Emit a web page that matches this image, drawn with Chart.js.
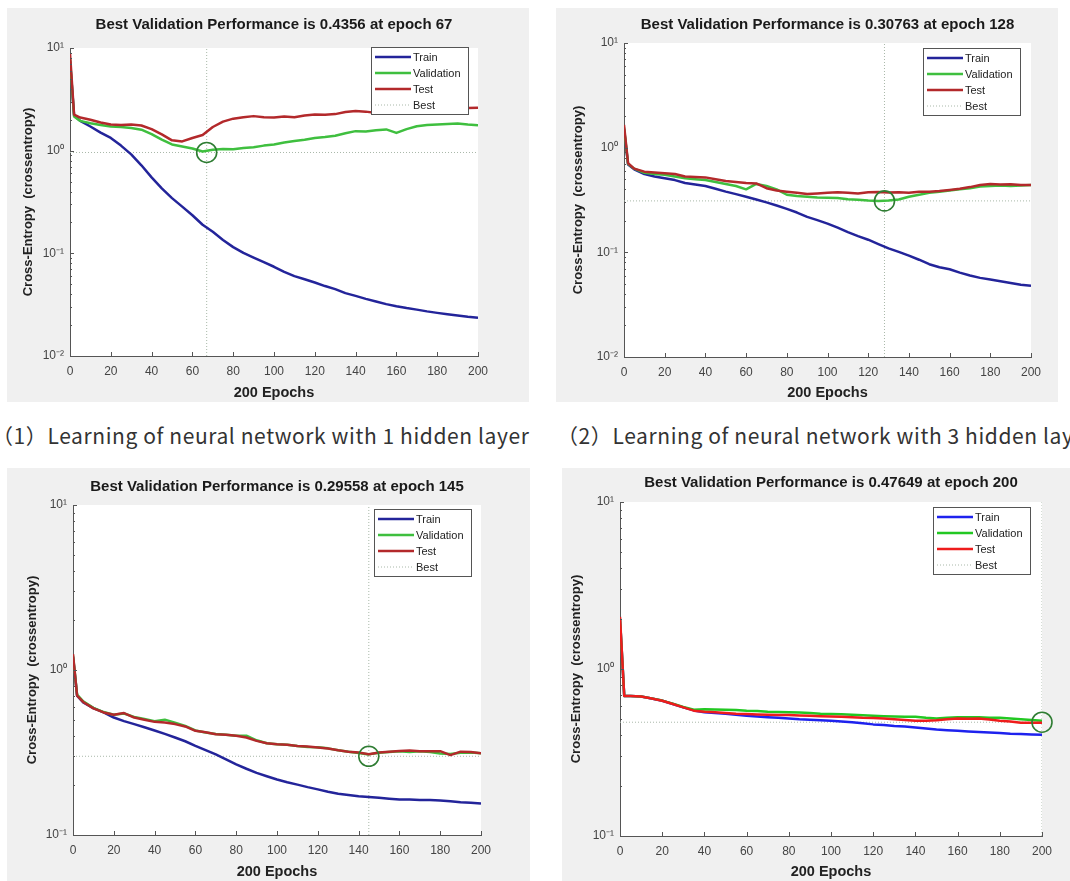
<!doctype html>
<html>
<head>
<meta charset="utf-8" />
<title>Cross-entropy learning curves</title>
<script src="https://cdn.jsdelivr.net/npm/chart.js"></script>
<style>
  body { margin: 0; width: 1070px; height: 881px; overflow: hidden; background: #fff; position: relative; }
  .panel { position: absolute; background: #f0f0f0; }
  .panel canvas { display: block; }
  .caption { position: absolute; top: 420px; font-family: "Noto Sans CJK SC", sans-serif; font-size: 21px; letter-spacing: 0.6px; color: #333; white-space: nowrap; }
</style>
</head>
<body>
<div class="panel" style="left:7px; top:8px; width:522px; height:394px;"><canvas id="c1"></canvas></div>
<div class="panel" style="left:556px; top:8px; width:502px; height:394px;"><canvas id="c2"></canvas></div>
<div class="panel" style="left:7px; top:468px; width:523px; height:413px;"><canvas id="c3"></canvas></div>
<div class="panel" style="left:562px; top:468px; width:508px; height:413px;"><canvas id="c4"></canvas></div>
<div class="caption" style="left:-8px;">（1）Learning of neural network with 1 hidden layer</div>
<div class="caption" style="left:557px;">（2）Learning of neural network with 3 hidden layers</div>

<script>
  var epochs = [0, 2, 5, 10, 15, 20, 25, 30, 35, 40, 45, 50, 55, 60, 65, 70, 75, 80, 85, 90, 95, 100,
    105, 110, 115, 120, 125, 130, 135, 140, 145, 150, 155, 160, 165, 170, 175, 180, 185, 190, 195, 200];
  var xTicks = [0, 20, 40, 60, 80, 100, 120, 140, 160, 180, 200];

  // (1) top left
  var train1 = [7.5, 2.2, 1.95, 1.72, 1.5, 1.33, 1.12, 0.92, 0.72, 0.55, 0.43, 0.345, 0.285, 0.235, 0.19, 0.162, 0.135, 0.115, 0.101, 0.091, 0.082, 0.074,
    0.066, 0.060, 0.056, 0.052, 0.048, 0.0448, 0.041, 0.0385, 0.036, 0.034, 0.032, 0.0305, 0.0293, 0.0283, 0.0272, 0.0263, 0.0255, 0.0248, 0.0241, 0.0236];
  var val1 = [7.8, 2.15, 1.95, 1.85, 1.78, 1.72, 1.70, 1.66, 1.60, 1.45, 1.28, 1.15, 1.10, 1.05, 0.98, 1.02, 1.04, 1.03, 1.06, 1.08, 1.12, 1.15,
    1.20, 1.24, 1.28, 1.33, 1.36, 1.40, 1.48, 1.55, 1.54, 1.58, 1.61, 1.49, 1.62, 1.73, 1.78, 1.80, 1.82, 1.84, 1.80, 1.77];
  var test1 = [8.8, 2.25, 2.1, 2.0, 1.88, 1.80, 1.78, 1.80, 1.76, 1.62, 1.44, 1.26, 1.23, 1.33, 1.42, 1.70, 1.92, 2.05, 2.12, 2.17, 2.12, 2.10,
    2.15, 2.12, 2.20, 2.25, 2.24, 2.27, 2.38, 2.44, 2.40, 2.33, 2.36, 2.42, 2.50, 2.56, 2.55, 2.57, 2.58, 2.56, 2.60, 2.62];
  var best1 = [67, 0.96];
  var title1 = 'Best Validation Performance is 0.4356 at epoch 67';

  // (2) top right
  var train2 = [1.5, 0.69, 0.62, 0.56, 0.53, 0.51, 0.49, 0.46, 0.445, 0.43, 0.405, 0.38, 0.36, 0.34, 0.32, 0.30, 0.28, 0.26, 0.24, 0.218, 0.203, 0.188,
    0.172, 0.156, 0.143, 0.132, 0.12, 0.109, 0.101, 0.093, 0.085, 0.077, 0.072, 0.069, 0.064, 0.060, 0.057, 0.055, 0.053, 0.051, 0.049, 0.048];
  var val2 = [1.55, 0.70, 0.63, 0.575, 0.56, 0.55, 0.53, 0.51, 0.50, 0.49, 0.47, 0.45, 0.43, 0.40, 0.45, 0.43, 0.40, 0.355, 0.345, 0.34, 0.335, 0.333,
    0.33, 0.322, 0.318, 0.312, 0.31, 0.312, 0.32, 0.34, 0.355, 0.37, 0.38, 0.39, 0.40, 0.41, 0.425, 0.43, 0.435, 0.43, 0.435, 0.44];
  var test2 = [1.65, 0.71, 0.63, 0.59, 0.58, 0.57, 0.56, 0.53, 0.525, 0.52, 0.50, 0.48, 0.47, 0.46, 0.455, 0.41, 0.39, 0.38, 0.37, 0.36, 0.365, 0.37,
    0.375, 0.37, 0.365, 0.375, 0.378, 0.372, 0.375, 0.37, 0.38, 0.38, 0.385, 0.395, 0.405, 0.42, 0.44, 0.45, 0.445, 0.448, 0.44, 0.44];
  var best2 = [128, 0.31];
  var title2 = 'Best Validation Performance is 0.30763 at epoch 128';

  // (3) bottom left
  var train3 = [1.2, 0.70, 0.636, 0.587, 0.553, 0.515, 0.49, 0.47, 0.45, 0.43, 0.41, 0.39, 0.37, 0.347, 0.327, 0.308, 0.287, 0.268, 0.252, 0.238, 0.227, 0.217,
    0.209, 0.202, 0.195, 0.189, 0.183, 0.178, 0.175, 0.172, 0.17, 0.168, 0.166, 0.164, 0.164, 0.163, 0.163, 0.162, 0.16, 0.158, 0.157, 0.155];
  var val3 = [1.22, 0.71, 0.645, 0.59, 0.556, 0.535, 0.545, 0.52, 0.505, 0.49, 0.50, 0.48, 0.458, 0.43, 0.418, 0.41, 0.405, 0.40, 0.40, 0.375, 0.36, 0.355,
    0.352, 0.346, 0.342, 0.34, 0.335, 0.326, 0.32, 0.314, 0.308, 0.315, 0.318, 0.322, 0.318, 0.322, 0.318, 0.312, 0.31, 0.315, 0.316, 0.313];
  var test3 = [1.25, 0.70, 0.64, 0.585, 0.553, 0.535, 0.548, 0.515, 0.50, 0.485, 0.48, 0.47, 0.455, 0.428, 0.42, 0.408, 0.405, 0.399, 0.39, 0.372, 0.36, 0.355,
    0.352, 0.346, 0.344, 0.339, 0.334, 0.326, 0.32, 0.316, 0.309, 0.316, 0.32, 0.323, 0.325, 0.322, 0.322, 0.322, 0.305, 0.32, 0.318, 0.313];
  var best3 = [145, 0.30];
  var title3 = 'Best Validation Performance is 0.29558 at epoch 145';

  // (4) bottom right
  var train4 = [2.0, 0.69, 0.69, 0.685, 0.665, 0.646, 0.617, 0.589, 0.565, 0.55, 0.545, 0.54, 0.532, 0.525, 0.52, 0.515, 0.51, 0.505, 0.50, 0.497, 0.493, 0.49,
    0.485, 0.48, 0.473, 0.466, 0.462, 0.456, 0.452, 0.447, 0.44, 0.434, 0.43, 0.427, 0.423, 0.42, 0.417, 0.414, 0.41, 0.408, 0.406, 0.404];
  var val4 = [2.0, 0.69, 0.69, 0.685, 0.667, 0.647, 0.62, 0.592, 0.57, 0.575, 0.572, 0.57, 0.568, 0.563, 0.56, 0.555, 0.552, 0.55, 0.548, 0.545, 0.54, 0.537,
    0.535, 0.532, 0.528, 0.525, 0.522, 0.52, 0.518, 0.518, 0.51, 0.505, 0.51, 0.515, 0.515, 0.515, 0.51, 0.51, 0.505, 0.50, 0.495, 0.49];
  var test4 = [2.05, 0.69, 0.69, 0.685, 0.665, 0.646, 0.617, 0.589, 0.563, 0.555, 0.55, 0.545, 0.54, 0.537, 0.534, 0.532, 0.53, 0.53, 0.527, 0.524, 0.522, 0.52,
    0.517, 0.514, 0.51, 0.508, 0.505, 0.50, 0.495, 0.49, 0.49, 0.493, 0.50, 0.505, 0.503, 0.505, 0.498, 0.49, 0.485, 0.476, 0.476, 0.476];
  var best4 = [200, 0.48];
  var title4 = 'Best Validation Performance is 0.47649 at epoch 200';

  var yTicksWide = [0.01, 0.1, 1, 10];
  var yLabelsWide = ['10⁻²', '10⁻¹', '10⁰', '10¹'];
  var yTicksNarrow = [0.1, 1, 10];
  var yLabelsNarrow = ['10⁻¹', '10⁰', '10¹'];
  var legendNames = ['Train', 'Validation', 'Test', 'Best'];

  var darkColors = ['#23249a', '#3fbf3f', '#b3292b'];
  var brightColors = ['#1e22ee', '#22c822', '#ee1c1c'];
  var bestColor = '#a9b8a9';

  Chart.defaults.font.family = '"Liberation Sans", Arial, sans-serif';

  // white plot area, inward matlab ticks and the boxed legend
  const matlabLook = {
    id: 'matlabLook',
    beforeDraw(chart) {
      const {ctx, chartArea: a} = chart;
      ctx.save();
      ctx.fillStyle = '#ffffff';
      ctx.fillRect(a.left, a.top, a.right - a.left, a.bottom - a.top);
      ctx.restore();
    },
    afterDatasetsDraw(chart) {
      const {ctx, chartArea: a, scales: {x, y}} = chart;
      ctx.save();
      ctx.strokeStyle = '#555';
      ctx.lineWidth = 1;
      x.ticks.forEach(t => {
        const px = Math.round(x.getPixelForValue(t.value)) + 0.5;
        ctx.beginPath(); ctx.moveTo(px, a.bottom); ctx.lineTo(px, a.bottom - 4); ctx.stroke();
      });
      const lo = Math.round(Math.log10(y.min)), hi = Math.round(Math.log10(y.max));
      for (let d = lo; d <= hi; d++) {
        for (let k = 1; k < 10; k++) {
          const v = k * Math.pow(10, d);
          if (v > y.max * 1.0001) break;
          const py = Math.round(y.getPixelForValue(v)) + 0.5;
          ctx.beginPath(); ctx.moveTo(a.left, py); ctx.lineTo(a.left + (k === 1 ? 4 : 2), py); ctx.stroke();
        }
      }
      ctx.restore();
    },
    afterDraw(chart, args, opts) {
      const {ctx, chartArea: a} = chart;
      const w = 97, h = 67;
      const left = a.right - opts.right - w, top = a.top + opts.top;
      ctx.save();
      ctx.fillStyle = '#fff';
      ctx.fillRect(left, top, w, h);
      ctx.strokeStyle = '#555';
      ctx.lineWidth = 1;
      ctx.strokeRect(Math.round(left) + 0.5, Math.round(top) + 0.5, w, h);
      ctx.font = '11px "Liberation Sans", Arial, sans-serif';
      ctx.textBaseline = 'middle';
      legendNames.forEach((name, i) => {
        const ds = chart.data.datasets.find(d => d.label === name);
        const ry = top + 10 + i * 16;
        ctx.strokeStyle = ds.borderColor;
        ctx.lineWidth = Math.min(ds.borderWidth, 2.5);
        ctx.setLineDash(ds.borderDash || []);
        ctx.beginPath(); ctx.moveTo(left + 4, ry); ctx.lineTo(left + 40, ry); ctx.stroke();
        ctx.setLineDash([]);
        ctx.fillStyle = '#222';
        ctx.fillText(name, left + 42, ry + 1);
      });
      ctx.restore();
    }
  };

  function drawPanel(id, cfg) {
    const pts = vals => epochs.map((e, i) => ({x: e, y: vals[i]}));
    new Chart(document.getElementById(id), {
      type: 'line',
      data: {
        datasets: [
          {label: 'Train', data: pts(cfg.train), borderColor: cfg.colors[0], borderWidth: 2.5, order: 3},
          {label: 'Validation', data: pts(cfg.val), borderColor: cfg.colors[1], borderWidth: 2.5, order: 2},
          {label: 'Test', data: pts(cfg.test), borderColor: cfg.colors[2], borderWidth: 2.5, order: 1},
          {label: 'Best', data: [{x: 0, y: cfg.best[1]}, {x: 200, y: cfg.best[1]}],
            borderColor: bestColor, borderWidth: 1, borderDash: [1, 2], order: 5},
          {label: '', data: [{x: cfg.best[0], y: cfg.yTicks[0]}, {x: cfg.best[0], y: cfg.yTicks[cfg.yTicks.length - 1]}],
            borderColor: bestColor, borderWidth: 1, borderDash: [1, 2], order: 4},
          {label: '', data: [{x: cfg.best[0], y: cfg.best[1]}], showLine: false, pointRadius: 10,
            pointBorderColor: '#2f7d33', pointBackgroundColor: 'rgba(0,0,0,0)', pointBorderWidth: 1.6, clip: false, order: 0}
        ]
      },
      options: {
        responsive: true,
        maintainAspectRatio: false,
        animation: false,
        events: [],
        elements: {point: {radius: 0}, line: {tension: 0, borderJoinStyle: 'round'}},
        layout: {padding: cfg.pad},
        scales: {
          x: {
            type: 'linear', min: 0, max: 200,
            afterBuildTicks: s => { s.ticks = xTicks.map(v => ({value: v})); },
            afterFit: s => { s.height = cfg.xH; },
            ticks: {color: '#444', font: {size: 12}, padding: 8, maxRotation: 0},
            grid: {drawOnChartArea: false, drawTicks: false},
            border: {color: '#555', width: 1},
            title: {display: true, text: '200 Epochs', color: '#222', font: {size: 14.5, weight: 'bold', lineHeight: 1.2}, padding: {top: 0, bottom: 0}}
          },
          y: {
            type: 'logarithmic', min: cfg.yTicks[0], max: cfg.yTicks[cfg.yTicks.length - 1],
            afterBuildTicks: s => { s.ticks = cfg.yTicks.map(v => ({value: v})); },
            afterFit: s => { s.width = cfg.yW; },
            ticks: {color: '#444', font: {size: 12}, padding: 6,
              callback: v => cfg.yLabels[cfg.yTicks.indexOf(v)]},
            grid: {drawOnChartArea: false, drawTicks: false},
            border: {color: '#555', width: 1},
            title: {display: true, text: 'Cross-Entropy  (crossentropy)', color: '#222', font: {size: 13, weight: 'bold', lineHeight: 1.2}, padding: {top: 4, bottom: 0}}
          }
        },
        plugins: {
          legend: {display: false},
          tooltip: {enabled: false},
          title: {display: true, text: cfg.title, fullSize: false, color: '#1a1a1a',
            font: {size: 15, weight: 'bold', lineHeight: 1.2}, padding: {top: 0, bottom: cfg.titleGap}},
          matlabLook: {right: cfg.legendRight, top: cfg.legendTop}
        }
      },
      plugins: [matlabLook]
    });
  }

  drawPanel('c1', {train: train1, val: val1, test: test1, best: best1, title: title1, colors: darkColors,
    yTicks: yTicksWide, yLabels: yLabelsWide, pad: {left: 10, right: 51, top: 8, bottom: 0},
    yW: 53, xH: 46, titleGap: 14, legendRight: 10, legendTop: -1});
  drawPanel('c2', {train: train2, val: val2, test: test2, best: best2, title: title2, colors: darkColors,
    yTicks: yTicksWide, yLabels: yLabelsWide, pad: {left: 11, right: 27, top: 8, bottom: 0},
    yW: 57, xH: 45, titleGap: 9, legendRight: 11, legendTop: 5});
  drawPanel('c3', {train: train3, val: val3, test: test3, best: best3, title: title3, colors: darkColors,
    yTicks: yTicksNarrow, yLabels: yLabelsNarrow, pad: {left: 14, right: 49, top: 10, bottom: 0},
    yW: 52, xH: 46, titleGap: 9, legendRight: 10, legendTop: 4});
  drawPanel('c4', {train: train4, val: val4, test: test4, best: best4, title: title4, colors: brightColors,
    yTicks: yTicksNarrow, yLabels: yLabelsNarrow, pad: {left: 3, right: 28, top: 6, bottom: 0},
    yW: 55, xH: 45, titleGap: 10, legendRight: 12, legendTop: 5});
</script>
</body>
</html>
